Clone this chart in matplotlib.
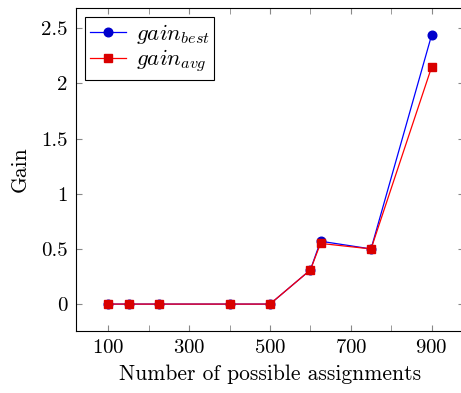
import matplotlib
matplotlib.use("Agg")
import matplotlib.pyplot as plt
from matplotlib.ticker import MultipleLocator, FixedLocator

plt.rcParams['font.family'] = 'cmr10'
plt.rcParams['mathtext.fontset'] = 'cm'
plt.rcParams['axes.formatter.use_mathtext'] = True

assignments = [100, 150, 225, 400, 500, 600, 625, 750, 900]
gain_best = [0, 0, 0, 0, 0, 0.31, 0.57, 0.50, 2.44]
gain_avg = [0, 0, 0, 0, 0, 0.31, 0.55, 0.50, 2.15]
x_labels = [100, 300, 500, 700, 900]
y_ticks = [0, 0.5, 1, 1.5, 2, 2.5]

fig = plt.figure(figsize=(4.61, 3.93), dpi=100)
ax = fig.add_axes([76/461, 62/393, 388/461, 323/393])

ax.plot(assignments, gain_best, color='blue', lw=0.9, marker='o', ms=6.2,
        mfc=(0, 0, 0.8), mec=(0, 0, 0.8), label=r'$gain_{best}$')
ax.plot(assignments, gain_avg, color='red', lw=0.9, marker='s', ms=6.0,
        mfc=(0.85, 0, 0), mec=(0.85, 0, 0), label=r'$gain_{avg}$')

ax.set_xlim(20, 980)
ax.set_ylim(-0.244, 2.684)
ax.xaxis.set_major_locator(FixedLocator(x_labels))
ax.xaxis.set_minor_locator(MultipleLocator(100))
ax.set_yticks(y_ticks)
ax.set_yticklabels(['0', '0.5', '1', '1.5', '2', '2.5'])
ax.tick_params(which='both', direction='in', top=True, right=True, length=4,
               color='#888888', labelsize=15, pad=6)
for s in ax.spines.values():
    s.set_linewidth(0.8)

ax.set_xlabel('Number of possible assignments', fontsize=15.5, labelpad=5)
ax.set_ylabel('Gain', fontsize=15.5, labelpad=8)

leg = ax.legend(loc='upper left', fontsize=16.5, fancybox=False, edgecolor='black',
                framealpha=1, borderaxespad=0.4, handlelength=1.6,
                handletextpad=0.4, borderpad=0.2, labelspacing=0.1)
leg.get_frame().set_linewidth(0.8)

fig.savefig('out.png', dpi=100)
